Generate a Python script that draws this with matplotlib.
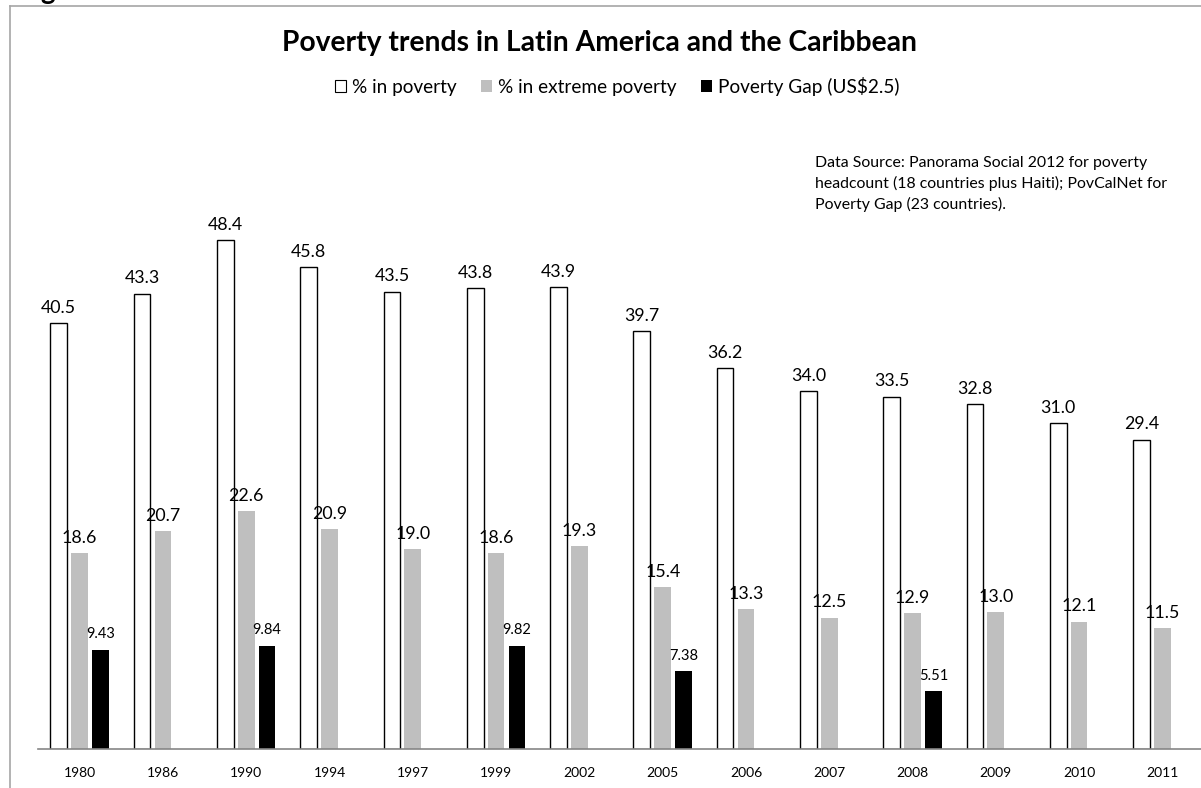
import numpy as np
from matplotlib import pyplot as plt
from matplotlib.lines import Line2D
from matplotlib.patches import Patch

# dati
anni = ["1980", "1986", "1990", "1994", "1997", "1999", "2002",
        "2005", "2006", "2007", "2008", "2009", "2010", "2011"]
poverta = [40.5, 43.3, 48.4, 45.8, 43.5, 43.8, 43.9,
           39.7, 36.2, 34.0, 33.5, 32.8, 31.0, 29.4]
estrema = [18.6, 20.7, 22.6, 20.9, 19.0, 18.6, 19.3,
           15.4, 13.3, 12.5, 12.9, 13.0, 12.1, 11.5]
# poverty gap solo per alcuni anni
gap = [9.43, None, 9.84, None, None, 9.82, None,
       7.38, None, None, 5.51, None, None, None]

plt.rcParams['font.family'] = ['Lato', 'DejaVu Sans']

W, H = 1201, 788
fig = plt.figure(figsize=(W / 100, H / 100), dpi=100)

# cornice grigia (solo lati sinistro e superiore visibili)
fig.add_artist(Line2D([10 / W, 10 / W], [0, 1 - 6 / H], color="#a6a6a6", lw=1.2))
fig.add_artist(Line2D([10 / W, 1], [1 - 6 / H, 1 - 6 / H], color="#a6a6a6", lw=1.2))
# resto del titolo della figura, tagliato in alto come nell'originale
fig.text(40 / W, 1 + 1 / H, "g", ha="left", va="baseline", fontsize=20,
         fontweight="bold")

ax = fig.add_axes([38 / W, 39 / H, 1166 / W, 631 / H])
x = np.arange(len(anni))
w = 0.2

ax.bar(x - 0.25, poverta, w, color="white", edgecolor="black", lw=1)
ax.bar(x, estrema, w, color="#bfbfbf")
gx = [i for i, g in enumerate(gap) if g is not None]
gv = [g for g in gap if g is not None]
ax.bar(np.array(gx) + 0.25, gv, w, color="black")

for i, v in enumerate(poverta):
    ax.text(i - 0.25, v + 0.7, f"{v:.1f}", ha="center", va="bottom", fontsize=12.8)
for i, v in enumerate(estrema):
    ax.text(i, v + 0.7, f"{v:.1f}", ha="center", va="bottom", fontsize=12.8)
for i, v in zip(gx, gv):
    ax.text(i + 0.25, v + 0.8, f"{v:.2f}", ha="center", va="bottom", fontsize=10.5)

ax.set_xlim(-0.5, 13.5)
ax.set_ylim(0, 60)
ax.set_xticks(x)
ax.set_xticklabels(anni, fontsize=10)
ax.tick_params(axis="x", length=0, pad=13)
ax.set_yticks([])
for s in ["left", "right", "top"]:
    ax.spines[s].set_visible(False)
ax.spines["bottom"].set_color("#868686")
ax.spines["bottom"].set_linewidth(1.2)
ax.patch.set_alpha(0)

fig.text(600 / W, 1 - 43 / H, "Poverty trends in Latin America and the Caribbean",
         ha="center", va="center", fontsize=20.3, fontweight="bold")

handles = [Patch(facecolor="white", edgecolor="black", lw=0.8),
           Patch(facecolor="#bfbfbf"),
           Patch(facecolor="black")]
labels = ["% in poverty", "% in extreme poverty", "Poverty Gap (US$2.5)"]
fig.legend(handles, labels, loc="center", bbox_to_anchor=(617 / W, 1 - 86 / H),
           ncol=3, frameon=False, fontsize=13.7, handlelength=0.58, handleheight=0.58,
           handletextpad=0.3, columnspacing=1.3)

fig.text(815 / W, 1 - 184 / H,
         "Data Source: Panorama Social 2012 for poverty\n"
         "headcount (18 countries plus Haiti); PovCalNet for\n"
         "Poverty Gap (23 countries).",
         ha="left", va="center", fontsize=11.4, linespacing=1.48)

fig.savefig("out.png", dpi=100)
